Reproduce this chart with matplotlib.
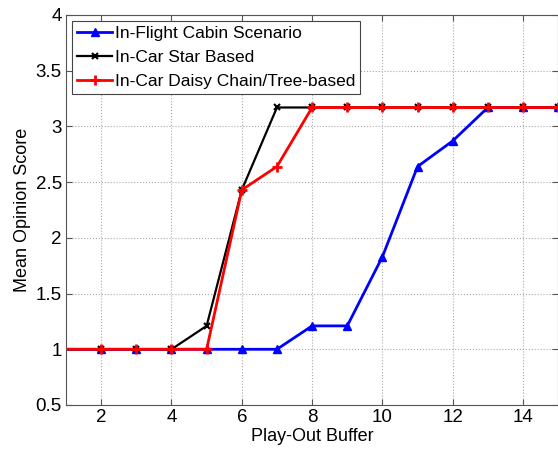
import matplotlib
matplotlib.use("Agg")
import matplotlib.pyplot as plt

plt.rcParams['font.family'] = ['Liberation Sans', 'DejaVu Sans']

buffer_sizes = [1, 2, 3, 4, 5, 6, 7, 8, 9, 10, 11, 12, 13, 14, 15]
mos_flight = [1, 1, 1, 1, 1, 1, 1, 1.21, 1.21, 1.83, 2.64, 2.87, 3.17, 3.17, 3.17]
mos_star = [1, 1, 1, 1, 1.21, 2.43, 3.17, 3.17, 3.17, 3.17, 3.17, 3.17, 3.17, 3.17, 3.17]
mos_daisy = [1, 1, 1, 1, 1, 2.43, 2.64, 3.17, 3.17, 3.17, 3.17, 3.17, 3.17, 3.17, 3.17]

x_ticks = [2, 4, 6, 8, 10, 12, 14]
y_ticks = [0.5, 1, 1.5, 2, 2.5, 3, 3.5, 4]

fig = plt.figure(figsize=(5.58, 4.49), dpi=100)
ax = fig.add_axes([0.1183, 0.098, 0.882, 0.8686])

marks = slice(1, None)
ax.plot(buffer_sizes, mos_flight, color='#0000ff', lw=2, marker='^', ms=6,
        markevery=marks, label='In-Flight Cabin Scenario')
ax.plot(buffer_sizes, mos_star, color='black', lw=1.6, marker='x', ms=4,
        mew=1.5, markevery=marks, label='In-Car Star Based')
ax.plot(buffer_sizes, mos_daisy, color='#ff0000', lw=2, marker='+', ms=7,
        mew=2, markevery=marks, label='In-Car Daisy Chain/Tree-based')

ax.set_xlim(1, 15)
ax.set_ylim(0.5, 4)
ax.set_xticks(x_ticks)
ax.set_yticks(y_ticks)
ax.set_yticklabels(['0.5', '1', '1.5', '2', '2.5', '3', '3.5', '4'])
ax.tick_params(direction='in', top=True, right=True, labelsize=13.5, length=4,
               color='#555555', pad=3)
ax.grid(True, linestyle=':', color='#aaaaaa', lw=0.8)
for s in ax.spines.values():
    s.set_color('#555555')

ax.set_xlabel('Play-Out Buffer', fontsize=13, labelpad=1)
ax.set_ylabel('Mean Opinion Score', fontsize=13, labelpad=3.5)

leg = ax.legend(loc='upper left', fontsize=12.5, fancybox=False, framealpha=1,
                edgecolor='#444444', borderaxespad=0.35, handlelength=2.0,
                labelspacing=0.5, borderpad=0.3, handletextpad=0.15)
leg.get_frame().set_linewidth(0.8)

fig.savefig('out.png', dpi=100)
